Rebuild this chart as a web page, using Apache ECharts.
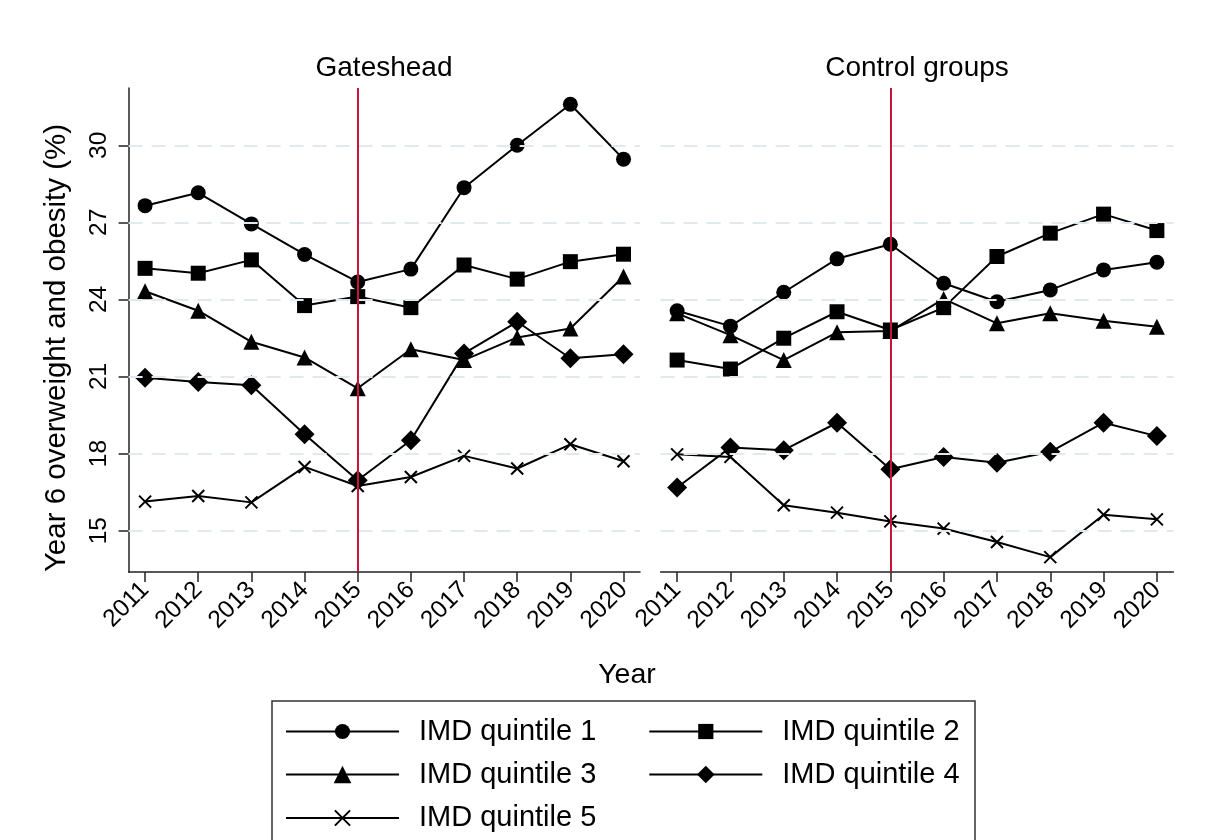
<!DOCTYPE html>
<html>
<head>
<meta charset="utf-8">
<script src="https://cdn.jsdelivr.net/npm/echarts@6/dist/echarts.min.js"></script>
<style>
html,body{margin:0;padding:0;background:#fff;}
#chart{width:1208px;height:840px;}
</style>
</head>
<body>
<div id="chart"></div>
<script>
// ---- data ----
const years = [2011, 2012, 2013, 2014, 2015, 2016, 2017, 2018, 2019, 2020];
const yTicks = [15, 18, 21, 24, 27, 30];
const seriesNames = ['IMD quintile 1', 'IMD quintile 2', 'IMD quintile 3', 'IMD quintile 4', 'IMD quintile 5'];
const panelTitles = ['Gateshead', 'Control groups'];
const interventionYear = 2015;

// Gateshead
const gateshead_q1 = [27.65, 28.15, 26.94, 25.75, 24.68, 25.18, 28.35, 30.0, 31.6, 29.46];
const gateshead_q2 = [25.21, 25.02, 25.54, 23.76, 24.11, 23.68, 25.34, 24.79, 25.47, 25.76];
const gateshead_q3 = [24.32, 23.56, 22.35, 21.74, 20.54, 22.06, 21.64, 22.52, 22.87, 24.89];
const gateshead_q4 = [20.95, 20.79, 20.66, 18.75, 16.96, 18.52, 21.90, 23.13, 21.71, 21.87];
const gateshead_q5 = [16.13, 16.35, 16.10, 17.48, 16.74, 17.09, 17.91, 17.42, 18.36, 17.70];

// Control groups
const control_q1 = [23.56, 22.96, 24.28, 25.58, 26.15, 24.63, 23.91, 24.37, 25.15, 25.45];
const control_q2 = [21.64, 21.29, 22.49, 23.52, 22.81, 23.68, 25.67, 26.58, 27.32, 26.68];
const control_q3 = [23.46, 22.61, 21.64, 22.72, 22.77, 24.02, 23.07, 23.46, 23.17, 22.94];
const control_q4 = [16.68, 18.24, 18.13, 19.20, 17.39, 17.87, 17.64, 18.07, 19.20, 18.68];
const control_q5 = [17.97, 17.87, 15.99, 15.70, 15.36, 15.08, 14.56, 13.97, 15.62, 15.44];

const panels = [
  [gateshead_q1, gateshead_q2, gateshead_q3, gateshead_q4, gateshead_q5],
  [control_q1, control_q2, control_q3, control_q4, control_q5]
];

// ---- styling ----
const FONT = 'Liberation Sans, Arial, sans-serif';
const symbols = ['circle', 'rect', 'triangle', 'diamond', 'path://M0,0L10,10M10,0L0,10'];
const symbolSizes = [15, 15, 16, 20, 12];

const chart = echarts.init(document.getElementById('chart'));

const xMin = 2010.69, xMax = 2020.31;
const yMin = 13.39, yMax = 32.23;

const grids = [
  {left: 128.6, top: 88, width: 511.4, height: 484},
  {left: 660.6, top: 88, width: 512.8, height: 484}
];

const xAxes = [0, 1].map(i => ({
  type: 'value', gridIndex: i, min: xMin, max: xMax,
  axisLine: {show: true, onZero: false, lineStyle: {color: '#222', width: 1.5}},
  axisTick: {show: true, length: 10, customValues: years, lineStyle: {color: '#222', width: 1.5}},
  axisLabel: {show: true, customValues: years, rotate: 45, margin: 14, fontSize: 24.5, color: '#000', fontFamily: FONT,
    formatter: v => String(v)},
  splitLine: {show: false}
}));

const yAxes = [0, 1].map(i => ({
  type: 'value', gridIndex: i, min: yMin, max: yMax,
  axisLine: {show: i === 0, onZero: false, lineStyle: {color: '#222', width: 1.5}},
  axisTick: {show: i === 0, length: 10, customValues: yTicks, lineStyle: {color: '#222', width: 1.5}},
  axisLabel: {show: i === 0, customValues: yTicks, rotate: 90, margin: 17, fontSize: 24.5, color: '#000', fontFamily: FONT},
  splitLine: {show: false}
}));

const series = [];
[0, 1].forEach(p => {
  // helper series for gridlines and intervention line
  series.push({
    type: 'line', name: 'helper' + p, xAxisIndex: p, yAxisIndex: p, data: [], z: 1,
    silent: true,
    markLine: {
      silent: true, symbol: 'none', animation: false,
      label: {show: false},
      data: yTicks.map(v => ({yAxis: v, lineStyle: {type: [14, 9], color: '#e0eaee', width: 2}}))
        .concat([{xAxis: interventionYear, lineStyle: {type: 'solid', color: '#c8143c', width: 2}}])
    }
  });
  panels[p].forEach((vals, k) => {
    series.push({
      type: 'line', name: seriesNames[k], xAxisIndex: p, yAxisIndex: p, z: 3,
      data: years.map((yr, j) => [yr, vals[j]]),
      symbol: symbols[k], symbolSize: symbolSizes[k], showSymbol: true, showAllSymbol: true,
      lineStyle: {color: '#000', width: 2},
      itemStyle: k === 4 ? {color: '#000', borderColor: '#000', borderWidth: 2} : {color: '#000'},
      emphasis: {disabled: true}
    });
  });
});

const legendCommon = {
  orient: 'horizontal', left: 285, itemWidth: 113, itemHeight: 19, itemGap: 52, padding: 0,
  selectedMode: false,
  textStyle: {fontSize: 29, color: '#000', fontFamily: FONT, padding: [0, 0, 0, 15]}
};

const option = {
  animation: false,
  backgroundColor: '#fff',
  grid: grids,
  xAxis: xAxes,
  yAxis: yAxes,
  legend: [
    Object.assign({}, legendCommon, {top: 717, data: [seriesNames[0], seriesNames[1]]}),
    Object.assign({}, legendCommon, {top: 760, itemHeight: 22, data: [seriesNames[2], seriesNames[3]]}),
    Object.assign({}, legendCommon, {top: 803.5, data: [seriesNames[4]]})
  ],
  graphic: [
    {type: 'text', x: 384, y: 68, style: {text: panelTitles[0], font: '28px ' + FONT, fill: '#000', align: 'center', verticalAlign: 'middle'}},
    {type: 'text', x: 917, y: 68, style: {text: panelTitles[1], font: '28px ' + FONT, fill: '#000', align: 'center', verticalAlign: 'middle'}},
    {type: 'text', x: 627, y: 675, style: {text: 'Year', font: '28.5px ' + FONT, fill: '#000', align: 'center', verticalAlign: 'middle'}},
    {type: 'text', x: 57, y: 348, rotation: Math.PI / 2, style: {text: 'Year 6 overweight and obesity (%)', font: '29.5px ' + FONT, fill: '#000', align: 'center', verticalAlign: 'middle'}},
    {type: 'rect', shape: {x: 272, y: 701, width: 703, height: 170}, style: {fill: 'none', stroke: '#333', lineWidth: 1.5}, z: -1}
  ],
  series: series
};

chart.setOption(option);
</script>
</body>
</html>
